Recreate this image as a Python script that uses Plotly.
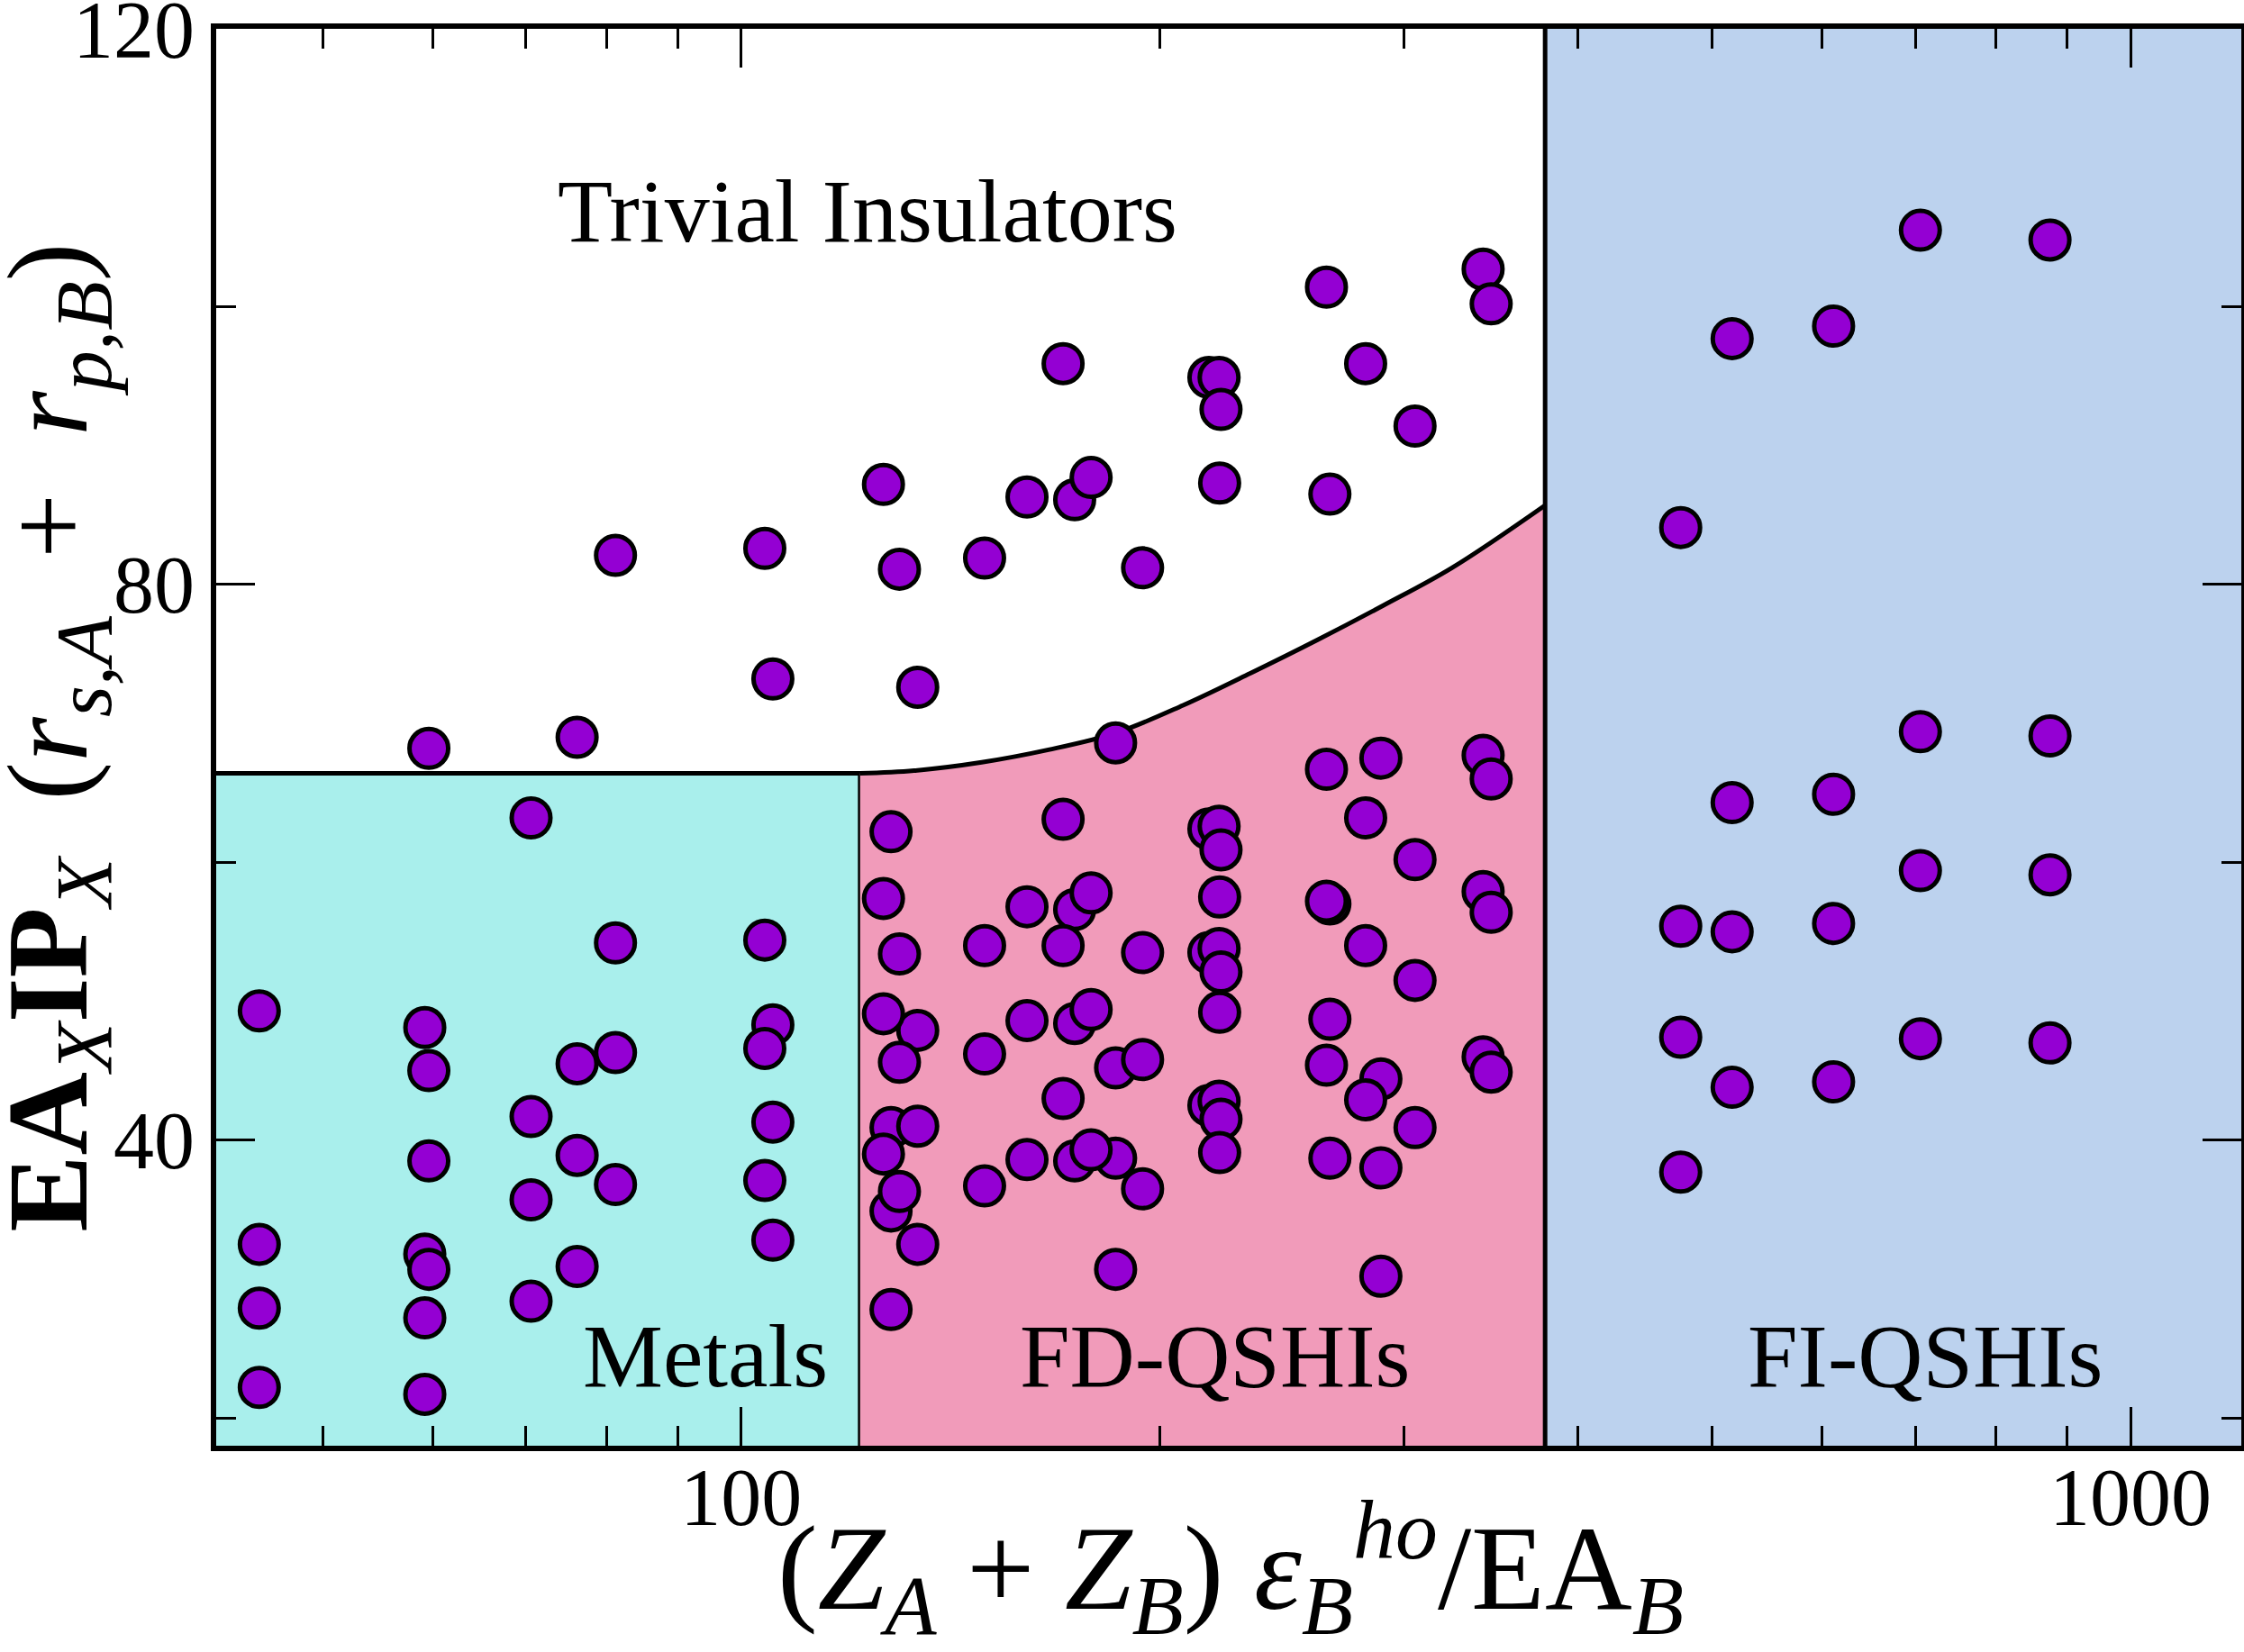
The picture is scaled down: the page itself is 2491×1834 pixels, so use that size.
import plotly.graph_objects as go

# x positions of the compounds, (Z_A + Z_B) eps_B^ho / EA_B
col_x = [45.0, 59.2, 59.6, 70.6, 76.2, 81.2, 104.0, 105.4,
         126.6, 128.2, 130.0, 134.0, 149.7, 160.6, 170.5, 173.8, 178.6,
         186.0, 194.5, 217.1, 220.8, 221.5, 221.0, 263.8, 265.3, 281.5,
         288.7, 305.5, 342.0, 346.6,
         474.5, 516.7, 611.3, 705.9, 875.0]

# four y values per compound (one per halogen X)
y_level1 = [49.3, 48.1, 68.2, 63.2, 69.0, 82.1, 82.6, 73.2,
            87.2, 62.2, 81.1, 72.6, 81.9, 86.3, 95.9, 86.1, 87.7,
            68.6, 81.2, 94.9, 94.9, 92.6, 87.3, 101.4, 86.5, 95.9,
            67.5, 91.4, 102.7, 100.2,
            84.1, 97.7, 98.6, 105.5, 104.8]
y_level2 = [32.5, 31.8, 45.0, 41.7, 45.5, 54.2, 54.4, 48.3,
            57.4, 40.9, 53.4, 47.9, 54.0, 56.8, 63.1, 56.6, 57.8,
            45.2, 53.5, 62.4, 62.6, 60.9, 57.5, 66.7, 57.0, 63.2,
            44.4, 60.2, 67.7, 66.0,
            55.4, 64.3, 64.9, 69.4, 69.1]
y_level3 = [27.9, 27.2, 38.5, 35.7, 38.9, 46.3, 46.6, 41.3,
            49.1, 34.9, 45.6, 41.0, 46.2, 48.6, 54.0, 48.4, 49.4,
            38.7, 45.8, 53.5, 53.8, 52.1, 49.2, 57.2, 48.7, 54.0,
            38.0, 51.5, 57.9, 56.4,
            47.4, 55.0, 55.6, 59.4, 59.1]
y_level4 = [22.2, 21.7, 30.7, 28.4, 30.9, 36.8, 37.1, 32.8,
            39.0, 27.8, 36.3, 32.5, 36.7, 38.6, 43.0, 38.5, 39.3,
            30.7, 36.5, 42.5, 42.8, 41.5, 39.1, 45.4, 38.7, 42.9,
            30.2, 40.9, 46.0, 44.9,
            37.7, 43.8, 44.2, 47.3, 47.0]

# region boundaries
metal_edge_x = 121.8
fi_edge_x = 379.0
metal_top_y = 66.4
boundary_x = [121.8, 133.2, 149.0, 166.4, 186.0, 208.0, 232.5, 259.8, 290.0, 324.8, 379.0]
boundary_y = [66.4, 66.6, 67.2, 68.1, 69.3, 71.3, 73.6, 76.0, 78.5, 81.2, 85.7]

x_range = [1.6222, 3.0797]   # log10
y_range = [18, 120]
x_major = [100, 1000]
x_minor = [50, 60, 70, 80, 90, 200, 300, 400, 500, 600, 700, 800, 900]
y_major = [40, 80, 120]
y_minor = [20, 60, 100]

FONT = "Liberation Serif"
x_lo, x_hi, y_lo, y_hi = 30, 1500, 10, 130
EDGE = dict(color="black", width=5)
SP = "\u00a0"

fig = go.Figure()

# Metals region
fig.add_trace(go.Scatter(
    x=[x_lo, x_lo, metal_edge_x, metal_edge_x, x_lo],
    y=[y_lo, metal_top_y, metal_top_y, y_lo, y_lo],
    mode="lines", fill="toself", fillcolor="#a9efec",
    line=EDGE, hoverinfo="skip", showlegend=False))

# FD-QSHI region, bounded above by the curve
fig.add_trace(go.Scatter(
    x=[metal_edge_x] + boundary_x + [fi_edge_x, metal_edge_x],
    y=[y_lo] + boundary_y + [y_lo, y_lo],
    mode="lines", fill="toself", fillcolor="#f19bba",
    line=dict(width=0), hoverinfo="skip", showlegend=False))

# FI-QSHI region
fig.add_trace(go.Scatter(
    x=[fi_edge_x, fi_edge_x, x_hi, x_hi, fi_edge_x],
    y=[y_lo, y_hi, y_hi, y_lo, y_lo],
    mode="lines", fill="toself", fillcolor="#bcd2ee",
    line=EDGE, hoverinfo="skip", showlegend=False))

# smooth boundary curve on top of the fill
fig.add_trace(go.Scatter(
    x=boundary_x, y=boundary_y, mode="lines",
    line=dict(color="black", width=5, shape="spline", smoothing=1.0),
    hoverinfo="skip", showlegend=False))

# data points
pts_x, pts_y = [], []
for level in (y_level1, y_level2, y_level3, y_level4):
    pts_x += col_x
    pts_y += level

fig.add_trace(go.Scatter(
    x=pts_x, y=pts_y, mode="markers",
    marker=dict(size=43, color="#9400d3", line=dict(color="black", width=5)),
    showlegend=False))

axis_common = dict(
    ticks="inside", ticklen=43, tickwidth=3, tickcolor="black",
    showline=True, linewidth=6, linecolor="black", mirror="ticks",
    showgrid=False, zeroline=False, automargin=False,
    ticklabeloverflow="allow",
    tickfont=dict(family=FONT, size=90, color="black"),
)

fig.update_xaxes(
    type="log", range=x_range, tickvals=x_major,
    ticktext=[str(v) for v in x_major],
    ticklabelstandoff=-26,
    minor=dict(tickvals=x_minor, ticks="inside", ticklen=22, tickwidth=3,
               tickcolor="black", showgrid=False),
    **axis_common)

fig.update_yaxes(
    range=y_range, tickvals=y_major, ticktext=[str(v) for v in y_major],
    ticklabelstandoff=0,
    minor=dict(tickvals=y_minor, ticks="inside", ticklen=22, tickwidth=3,
               tickcolor="black", showgrid=False),
    **axis_common)

x_title = ("(<i>Z</i><sub><i>A</i></sub>" + SP + "+" + SP + "<i>Z</i><sub><i>B</i></sub>)"
           + SP + "<i>ε</i><sub><i>B</i></sub><sup><i>ho</i></sup>/EA<sub><i>B</i></sub>")
y_title = ("<b>EA</b><sub><i>X</i></sub><b>IP</b><sub><i>X</i></sub>" + SP + SP
           + "(<i>r</i><sub><i>s,A</i></sub>" + SP + SP + "+" + SP + SP
           + "<i>r</i><sub><i>p,B</i></sub>)")

fig.add_annotation(text=x_title, x=0.501, y=-0.086, xref="paper", yref="paper",
                   showarrow=False, xanchor="center", yanchor="middle",
                   font=dict(family=FONT, size=134, color="black"))
fig.add_annotation(text=y_title, x=-0.0795, y=0.5, xref="paper", yref="paper",
                   showarrow=False, xanchor="center", yanchor="middle",
                   textangle=-90,
                   font=dict(family=FONT, size=128, color="black"))

labels = [
    ("Trivial Insulators", 0.3216, 0.871),
    ("Metals", 0.2415, 0.063),
    ("FD-QSHIs", 0.4929, 0.063),
    ("FI-QSHIs", 0.8439, 0.063),
]
for text, px, py in labels:
    fig.add_annotation(text=text, x=px, y=py, xref="paper", yref="paper",
                       showarrow=False, xanchor="center", yanchor="middle",
                       font=dict(family=FONT, size=100, color="black"))

fig.update_layout(
    width=2491, height=1834,
    margin=dict(l=240, r=3, t=32, b=229),
    plot_bgcolor="white", paper_bgcolor="white",
    showlegend=False,
)

# the page body has a default 8px margin; drop it so the figure sits at the origin
fig.write_html("out.html", config={"displayModeBar": False},
               post_script="document.body.style.margin='0px';")
